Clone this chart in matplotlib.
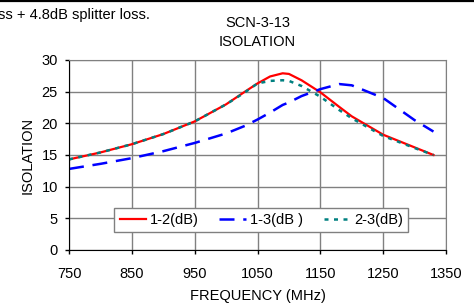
import matplotlib
matplotlib.use('Agg')
import matplotlib.pyplot as plt
from matplotlib.lines import Line2D

plt.rcParams['font.family'] = ['Liberation Sans', 'DejaVu Sans']

# Frequency (MHz)
freq = [750, 800, 850, 900, 950, 1000, 1030, 1050, 1070, 1090, 1100, 1120,
        1150, 1180, 1200, 1250, 1300, 1330]
iso_12 = [14.3, 15.4, 16.7, 18.3, 20.3, 23.0, 25.0, 26.3, 27.4, 27.9, 27.8, 26.8,
          24.9, 22.6, 21.1, 18.2, 16.2, 15.0]
iso_23 = [14.3, 15.4, 16.7, 18.3, 20.3, 23.0, 24.9, 26.3, 26.7, 26.8, 26.7, 25.9,
          24.2, 22.1, 20.8, 18.0, 16.1, 15.0]
iso_13 = [12.8, 13.6, 14.5, 15.6, 16.9, 18.4, 19.6, 20.6, 21.7, 22.9, 23.3, 24.3,
          25.4, 26.2, 26.0, 24.0, 20.5, 18.7]

xticks = [750, 850, 950, 1050, 1150, 1250, 1350]
yticks = [0, 5, 10, 15, 20, 25, 30]

fs = 10.5
fig = plt.figure(figsize=(4.74, 3.03), dpi=100)
ax = fig.add_axes([0.1456, 0.175, 0.7954, 0.627])

ax.plot(freq, iso_12, color='#ff0000', lw=1.6, label='1-2(dB)')
ax.plot(freq, iso_13, color='#0000ff', lw=1.8, dashes=(6, 3.5), label='1-3(dB )')
ax.plot(freq, iso_23, color='#008080', lw=1.8, dashes=(1.6, 2.2), label='2-3(dB)')

ax.set_xlim(750, 1350)
ax.set_ylim(0, 30)
ax.set_xticks(xticks)
ax.set_yticks(yticks)
ax.grid(True, color='#808080', lw=1.0)
ax.set_axisbelow(True)
for side in ['top', 'right']:
    ax.spines[side].set_color('#808080')
for side in ['left', 'bottom']:
    ax.spines[side].set_color('black')
ax.tick_params(axis='both', labelsize=fs, length=3, width=1, direction='out')
ax.tick_params(axis='x', pad=9)
ax.tick_params(axis='y', pad=5)

ax.set_xlabel('FREQUENCY (MHz)', fontsize=fs, labelpad=6)
ax.set_ylabel('ISOLATION', fontsize=fs, labelpad=5)
ax.set_title('SCN-3-13\nISOLATION', fontsize=fs, linespacing=1.5, pad=10)

leg = ax.legend(loc='lower center', bbox_to_anchor=(0.51, 0.055), ncol=3, fontsize=fs,
                frameon=True, fancybox=False, edgecolor='#808080', framealpha=1,
                handlelength=1.8, columnspacing=1.4, borderpad=0.35, handletextpad=0.3)
leg.get_frame().set_linewidth(1.0)

fig.text(-0.005, 0.952, 'ss + 4.8dB splitter loss.', fontsize=fs, ha='left', va='center')
fig.add_artist(Line2D([0, 1], [0.996, 0.996], transform=fig.transFigure, color='black', lw=1.6))

fig.savefig('out.png', dpi=100)
